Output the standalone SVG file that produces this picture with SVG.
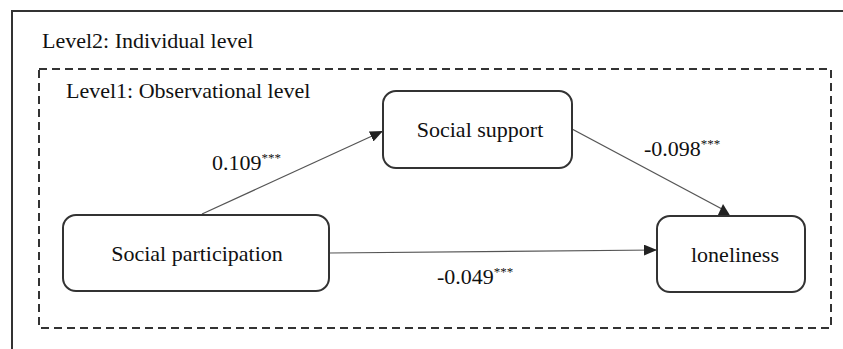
<svg xmlns="http://www.w3.org/2000/svg" width="843" height="349" viewBox="0 0 843 349">
<defs>
<style>
text{font-family:"Liberation Serif","Times New Roman",serif;font-size:22px;fill:#111}
.box{fill:#fff;stroke:#333;stroke-width:2}
.conn{stroke:#555;stroke-width:1.2;fill:none}
.sup{font-size:13px}
</style>
<marker id="ah" markerUnits="userSpaceOnUse" markerWidth="13" markerHeight="11" refX="13" refY="5.5" orient="auto">
<path d="M0,0 L13,5.5 L0,11 Z" fill="#222"/>
</marker>
</defs>
<rect width="843" height="349" fill="#fff"/>
<g id="level2">
<path d="M12,349 V11 H843" fill="none" stroke="#333" stroke-width="2"/>
<text x="42" y="48">Level2: Individual level</text>
</g>
<g id="level1">
<rect x="39" y="69" width="792" height="259" fill="none" stroke="#333" stroke-width="2" stroke-dasharray="8 5"/>
<text x="66" y="98">Level1: Observational level</text>
</g>
<g id="connectors">
<line class="conn" x1="202" y1="214" x2="383" y2="131" marker-end="url(#ah)"/>
<line class="conn" x1="572" y1="129" x2="722" y2="209"/>
<polygon points="717,217 731,217 723,204" fill="#222"/>
<line class="conn" x1="329" y1="253" x2="657" y2="250" marker-end="url(#ah)"/>
<text x="212" y="170">0.109<tspan class="sup" dy="-8">***</tspan></text>
<text x="644" y="156">-0.098<tspan class="sup" dy="-8">***</tspan></text>
<text x="437" y="284">-0.049<tspan class="sup" dy="-8">***</tspan></text>
</g>
<g id="social-support">
<rect class="box" x="383" y="91" width="189" height="77" rx="13"/>
<text x="480" y="137" text-anchor="middle">Social support</text>
</g>
<g id="social-participation">
<rect class="box" x="63" y="215" width="266" height="76" rx="13"/>
<text x="197" y="261" text-anchor="middle">Social participation</text>
</g>
<g id="loneliness">
<rect class="box" x="657" y="216" width="148" height="76" rx="13"/>
<text x="735" y="262" text-anchor="middle">loneliness</text>
</g>
</svg>
